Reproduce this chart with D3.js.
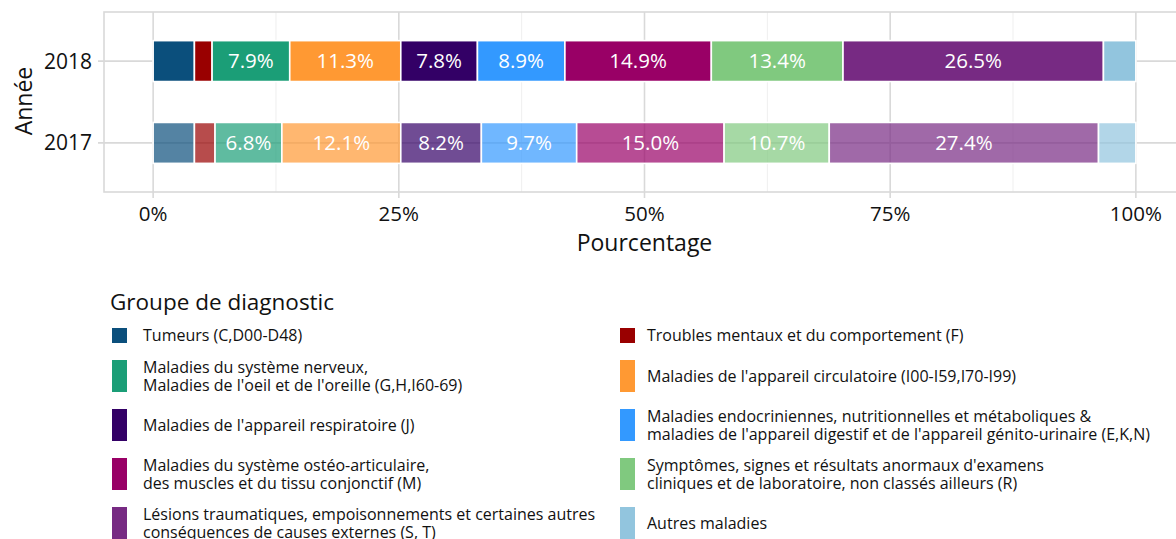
<!DOCTYPE html>
<html>
<head>
<meta charset="utf-8">
<script src="https://cdn.jsdelivr.net/npm/d3@7"></script>
<style>
  body { margin: 0; background: #fff; }
  svg { display: block; font-family: 'Open Sans', sans-serif; }
</style>
</head>
<body>
<div class="chart"></div>
<script>
/* Chart data
--------------------------------------------------- */
const years = ['2018', '2017'];

const groups = [
  'Tumeurs (C,D00-D48)',
  'Troubles mentaux et du comportement (F)',
  'Maladies du système nerveux,\nMaladies de l\'oeil et de l\'oreille (G,H,I60-69)',
  'Maladies de l\'appareil circulatoire (I00-I59,I70-I99)',
  'Maladies de l\'appareil respiratoire (J)',
  'Maladies endocriniennes, nutritionnelles et métaboliques &\nmaladies de l\'appareil digestif et de l\'appareil génito-urinaire (E,K,N)',
  'Maladies du système ostéo-articulaire,\ndes muscles et du tissu conjonctif (M)',
  'Symptômes, signes et résultats anormaux d\'examens\ncliniques et de laboratoire, non classés ailleurs (R)',
  'Lésions traumatiques, empoisonnements et certaines autres\nconséquences de causes externes (S, T)',
  'Autres maladies',
];

const groupColors = [
  '#0b4f7c', '#990000', '#1b9e77', '#ff9933', '#330066',
  '#3399ff', '#990066', '#80c97f', '#772a83', '#92c5de',
];

const values2018 = [4.2, 1.8, 7.9, 11.3, 7.8, 8.9, 14.9, 13.4, 26.5, 3.3];
const values2017 = [4.2, 2.1, 6.8, 12.1, 8.2, 9.7, 15.0, 10.7, 27.4, 3.8];

const xTicks = [0, 25, 50, 75, 100];
const xMinorTicks = [12.5, 37.5, 62.5, 87.5];

/* Build stacked segments
--------------------------------------------------- */
function stackYear(year, values) {
  let start = 0;
  return values.map((value, i) => {
    const seg = { year, group: i, value, x0: start, x1: start + value };
    start += value;
    return seg;
  });
}

const segments = stackYear('2018', values2018).concat(stackYear('2017', values2017));

/* Draw the chart
--------------------------------------------------- */
function drawChart() {
  const width = 1176;
  const height = 539;
  const panel = { top: 12, bottom: 192 };

  const x = d3.scaleLinear().domain([-5, 105]).range([104, 1185]);
  const y = d3.scalePoint().domain(years).range([panel.top, panel.bottom]).padding(0.6);
  const barHeight = y.step() * 0.5;
  const formatPct = d => d3.format('.1f')(d) + '%';

  const svg = d3
    .select('.chart')
    .append('svg')
    .attr('width', width)
    .attr('height', height);

  const grid = svg.append('g');

  grid
    .selectAll('.minor')
    .data(xMinorTicks)
    .enter()
    .append('line')
    .attr('x1', d => x(d))
    .attr('x2', d => x(d))
    .attr('y1', panel.top)
    .attr('y2', panel.bottom)
    .attr('stroke', '#efefef')
    .attr('stroke-width', 1);

  grid
    .selectAll('.major')
    .data(xTicks)
    .enter()
    .append('line')
    .attr('x1', d => x(d))
    .attr('x2', d => x(d))
    .attr('y1', panel.top)
    .attr('y2', panel.bottom + 6)
    .attr('stroke', '#d9d9d9')
    .attr('stroke-width', 1.6);

  grid
    .selectAll('.hmajor')
    .data(years)
    .enter()
    .append('line')
    .attr('x1', 98)
    .attr('x2', x(105))
    .attr('y1', d => y(d))
    .attr('y2', d => y(d))
    .attr('stroke', '#d9d9d9')
    .attr('stroke-width', 1.6);

  svg
    .append('rect')
    .attr('x', x(-5))
    .attr('y', panel.top)
    .attr('width', x(105) - x(-5))
    .attr('height', panel.bottom - panel.top)
    .attr('fill', 'none')
    .attr('stroke', '#d9d9d9')
    .attr('stroke-width', 1.6);

  svg
    .selectAll('.bar')
    .data(segments)
    .enter()
    .append('rect')
    .attr('x', d => x(d.x0))
    .attr('y', d => y(d.year) - barHeight / 2)
    .attr('width', d => x(d.x1) - x(d.x0))
    .attr('height', barHeight)
    .attr('fill', d => groupColors[d.group])
    .attr('fill-opacity', d => (d.year === '2017' ? 0.7 : 1))
    .attr('stroke', '#fff')
    .attr('stroke-width', 1.6);

  svg
    .selectAll('.label')
    .data(segments.filter(d => d.value >= 5))
    .enter()
    .append('text')
    .attr('x', d => x((d.x0 + d.x1) / 2))
    .attr('y', d => y(d.year))
    .attr('dy', '0.36em')
    .attr('text-anchor', 'middle')
    .attr('fill', '#fff')
    .attr('font-size', 20.5)
    .text(d => formatPct(d.value));

  // axes text
  svg
    .selectAll('.xtick')
    .data(xTicks)
    .enter()
    .append('text')
    .attr('x', d => x(d))
    .attr('y', 221)
    .attr('text-anchor', 'middle')
    .attr('font-size', 20.5)
    .attr('fill', '#111')
    .text(d => d + '%');

  svg
    .selectAll('.ytick')
    .data(years)
    .enter()
    .append('text')
    .attr('x', 92)
    .attr('y', d => y(d))
    .attr('dy', '0.36em')
    .attr('text-anchor', 'end')
    .attr('font-size', 21)
    .attr('fill', '#111')
    .text(d => d);

  svg
    .append('text')
    .attr('x', x(50))
    .attr('y', 251)
    .attr('text-anchor', 'middle')
    .attr('font-size', 23)
    .attr('fill', '#111')
    .text('Pourcentage');

  svg
    .append('text')
    .attr('transform', `translate(32, ${(panel.top + panel.bottom) / 2 - 1}) rotate(-90)`)
    .attr('text-anchor', 'middle')
    .attr('font-size', 23)
    .attr('fill', '#111')
    .text('Année');

  drawLegend(svg);
}

/* Legend, two columns filled by row
--------------------------------------------------- */
function drawLegend(svg) {
  const legend = svg.append('g');
  const columns = [{ key: 112, text: 143 }, { key: 620, text: 647 }];
  const lineHeight = 18;

  legend
    .append('text')
    .attr('x', 110)
    .attr('y', 310)
    .attr('font-size', 22.5)
    .attr('fill', '#111')
    .text('Groupe de diagnostic');

  let top = 328;
  for (let row = 0; row < groups.length / 2; row++) {
    const items = [row * 2, row * 2 + 1];
    const lines = d3.max(items, i => groups[i].split('\n').length);
    const rowHeight = lines === 1 ? 15 : 32;
    const center = top + rowHeight / 2;

    items.forEach((i, col) => {
      legend
        .append('rect')
        .attr('x', columns[col].key)
        .attr('y', top)
        .attr('width', 15)
        .attr('height', rowHeight)
        .attr('fill', groupColors[i]);

      const parts = groups[i].split('\n');
      const text = legend
        .append('text')
        .attr('x', columns[col].text)
        .attr('y', center - ((parts.length - 1) * lineHeight) / 2)
        .attr('font-size', 16)
        .attr('fill', '#111');

      parts.forEach((part, k) => {
        text
          .append('tspan')
          .attr('x', columns[col].text)
          .attr('dy', k === 0 ? '0.35em' : lineHeight)
          .text(part);
      });
    });

    top += rowHeight + 17;
  }
}

drawChart();
</script>
</body>
</html>
